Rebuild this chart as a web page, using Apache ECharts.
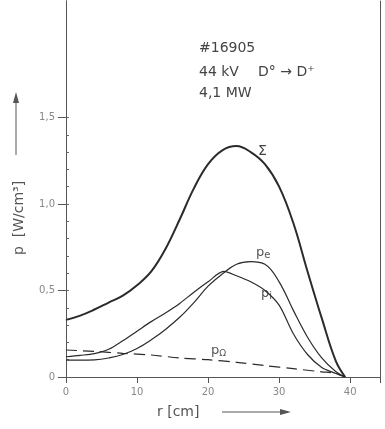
<!DOCTYPE html>
<html>
<head>
<meta charset="utf-8">
<script src="https://cdn.jsdelivr.net/npm/echarts@6/dist/echarts.min.js"></script>
<style>
html,body{margin:0;padding:0;background:#fff;}
#c{width:385px;height:429px;}
</style>
</head>
<body>
<div id="c"></div>
<script>
// radius r [cm] and power density p [W/cm^3]
var rSum = [0, 2, 4, 6, 8, 10, 12, 14, 16, 18, 20, 22, 24, 26, 28, 30, 32, 34, 36, 38, 39.3];
var pSum = [0.33, 0.355, 0.39, 0.43, 0.47, 0.53, 0.61, 0.74, 0.91, 1.09, 1.23, 1.31, 1.335, 1.30, 1.23, 1.10, 0.89, 0.61, 0.34, 0.09, 0];

var rI = [0, 2, 4, 6, 8, 10, 12, 14, 16, 18, 20, 22.2, 24, 26, 28, 30, 32, 34, 36, 38, 39.2];
var pI = [0.117, 0.125, 0.135, 0.16, 0.21, 0.265, 0.32, 0.37, 0.425, 0.49, 0.55, 0.61, 0.585, 0.55, 0.50, 0.415, 0.25, 0.13, 0.055, 0.02, 0];

var rE = [0, 2, 4, 6, 8, 10, 12, 14, 16, 18, 20, 22, 24, 26, 28, 30, 32, 34, 36, 38, 39.3];
var pE = [0.098, 0.097, 0.099, 0.11, 0.13, 0.165, 0.215, 0.275, 0.345, 0.43, 0.525, 0.595, 0.652, 0.667, 0.652, 0.55, 0.385, 0.23, 0.11, 0.03, 0];

var rO = [0, 4, 8, 12, 16, 20, 24, 28, 32, 36, 38, 39.3];
var pO = [0.156, 0.148, 0.137, 0.127, 0.11, 0.1, 0.085, 0.066, 0.048, 0.03, 0.02, 0];

var xTicks = [0, 10, 20, 30, 40];
var yTicks = [0, 0.5, 1.0, 1.5];
var yMinorTicks = [0, 0.1, 0.2, 0.3, 0.4, 0.5, 0.6, 0.7, 0.8, 0.9, 1.0, 1.1, 1.2, 1.3, 1.4, 1.5];

function pairs(xs, ys){ return xs.map(function(x,i){return [x, ys[i]];}); }

var ink = '#2b2b2b';
var chart = echarts.init(document.getElementById('c'));
var fontF = '"DejaVu Sans", "Liberation Sans", sans-serif';

chart.setOption({
  backgroundColor: '#fff',
  animation: false,
  grid: {left: 66, top: 1, right: 5, bottom: 52, containLabel: false},
  xAxis: [{
    type: 'value', min: 0, max: 44.2, interval: 10,
    axisLine: {show: true, onZero: false, lineStyle: {color: '#555', width: 1, type: [9, 3, 2, 3]}},
    axisTick: {show: true, inside: false, length: 6, lineStyle: {color: '#555'}},
    axisLabel: {show: true, margin: 10, color: '#888', fontSize: 10, fontFamily: fontF,
      formatter: function(v){ return xTicks.indexOf(v) >= 0 ? String(v) : ''; }},
    splitLine: {show: false}
  }, {
    type: 'value', position: 'top', min: 0, max: 44.2,
    axisLine: {show: true, lineStyle: {color: '#555', width: 1}},
    axisTick: {show: false}, axisLabel: {show: false}, splitLine: {show: false}
  }],
  yAxis: [{
    type: 'value', min: 0, max: 2.173, position: 'left',
    axisLine: {show: true, lineStyle: {color: '#555', width: 1}},
    axisTick: {show: true, inside: false, length: 8, customValues: yTicks, lineStyle: {color: '#555'}},
    axisLabel: {show: true, margin: 11, color: '#888', fontSize: 10, fontFamily: fontF, customValues: yTicks,
      formatter: function(v){ return v === 0 ? '0' : v.toFixed(1).replace('.', ','); }},
    splitLine: {show: false}
  }, {
    type: 'value', min: 0, max: 2.173, position: 'left', offset: 0,
    axisLine: {show: true, lineStyle: {color: '#555', width: 1}},
    axisTick: {show: true, inside: true, length: 3, customValues: yMinorTicks, lineStyle: {color: '#666'}},
    axisLabel: {show: false}, splitLine: {show: false}
  }, {
    type: 'value', min: 0, max: 2.173, position: 'right',
    axisLine: {show: true, lineStyle: {color: '#555', width: 1}},
    axisTick: {show: false}, axisLabel: {show: false}, splitLine: {show: false}
  }],
  series: [
    {name: 'Σ', type: 'line', data: pairs(rSum, pSum), smooth: 0.4, symbol: 'none',
     lineStyle: {color: ink, width: 2}},
    {name: 'pi', type: 'line', data: pairs(rI, pI), smooth: 0.3, symbol: 'none',
     lineStyle: {color: ink, width: 1.2}},
    {name: 'pe', type: 'line', data: pairs(rE, pE), smooth: 0.4, symbol: 'none',
     lineStyle: {color: ink, width: 1.2}},
    {name: 'pΩ', type: 'line', data: pairs(rO, pO), smooth: 0.3, symbol: 'none',
     lineStyle: {color: ink, width: 1.2, type: [11, 6]}}
  ],
  graphic: [
    {type: 'text', x: 199, y: 48, style: {text: '#16905', fill: '#444', font: '14px ' + fontF, verticalAlign: 'middle'}},
    {type: 'text', x: 199, y: 72, style: {text: '44 kV', fill: '#444', font: '14px ' + fontF, verticalAlign: 'middle'}},
    {type: 'text', x: 258, y: 72, style: {text: 'D° → D⁺', fill: '#444', font: '14px ' + fontF, verticalAlign: 'middle'}},
    {type: 'text', x: 199, y: 93, style: {text: '4,1 MW', fill: '#444', font: '14px ' + fontF, verticalAlign: 'middle'}},
    {type: 'text', left: 258, top: 144, style: {text: 'Σ', fill: '#444', font: '14px ' + fontF}},
    {type: 'text', left: 256, top: 246, style: {text: '{a|p}{b|e}', rich: {a: {fontSize: 13, fill: '#555', fontFamily: fontF}, b: {fontSize: 10, fill: '#555', fontFamily: fontF, padding: [6,0,0,0]}}}},
    {type: 'text', left: 261, top: 287, style: {text: '{a|p}{b|i}', rich: {a: {fontSize: 13, fill: '#555', fontFamily: fontF}, b: {fontSize: 10, fill: '#555', fontFamily: fontF, padding: [6,0,0,0]}}}},
    {type: 'text', left: 211, top: 344, style: {text: '{a|p}{b|Ω}', rich: {a: {fontSize: 13, fill: '#555', fontFamily: fontF}, b: {fontSize: 9, fill: '#555', fontFamily: fontF, padding: [6,0,0,0]}}}},
    // x axis name and arrow
    {type: 'text', x: 157, y: 412, style: {text: 'r [cm]', fill: '#555', font: '14px ' + fontF, verticalAlign: 'middle'}},
    {type: 'line', shape: {x1: 222, y1: 412, x2: 288, y2: 412}, style: {stroke: '#555', lineWidth: 1}},
    {type: 'polygon', shape: {points: [[291, 412], [280, 409], [280, 415]]}, style: {fill: '#555'}},
    // y axis name and arrow
    {type: 'text', x: 19, y: 218, rotation: Math.PI / 2, style: {text: 'p  [W/cm³]', fill: '#555', font: '14px ' + fontF, align: 'center', verticalAlign: 'middle'}},
    {type: 'line', shape: {x1: 16, y1: 155, x2: 16, y2: 96}, style: {stroke: '#555', lineWidth: 1}},
    {type: 'polygon', shape: {points: [[16, 92], [13, 103], [19, 103]]}, style: {fill: '#555'}}
  ]
});
</script>
</body>
</html>
